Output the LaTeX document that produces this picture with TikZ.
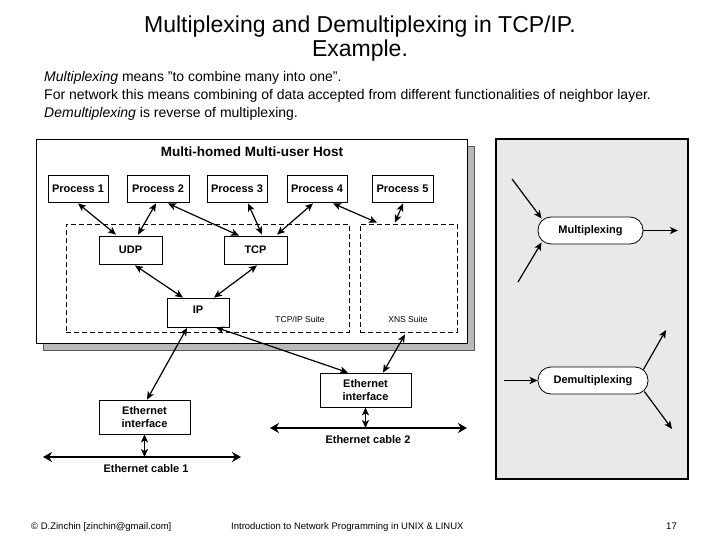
\documentclass[tikz,border=0pt]{standalone}
\usepackage{fontspec}
\setmainfont{Liberation Sans}
\usetikzlibrary{arrows.meta,calc}
\begin{document}
\begin{tikzpicture}[x=1pt,y=-1pt,
  box/.style={draw,line width=0.8pt,fill=white,inner sep=0pt,align=center,
    font=\fontsize{11}{13}\selectfont\bfseries},
  rbox/.style={box,rounded corners=13pt},
  dashbox/.style={draw,dashed,line width=0.8pt,dash pattern=on 5pt off 3pt,inner sep=0pt},
  lbl/.style={inner sep=0pt,font=\fontsize{11}{13}\selectfont\bfseries},
  small/.style={inner sep=0pt,font=\fontsize{8.5}{10}\selectfont},
  dbl/.style={{Stealth[length=8pt,width=7pt,inset=2pt]}-{Stealth[length=8pt,width=7pt,inset=2pt]},line width=1.2pt},
  sgl/.style={-{Stealth[length=8pt,width=7pt,inset=2pt]},line width=1.2pt},
  cable/.style={{Stealth[length=9pt,width=10pt]}-{Stealth[length=9pt,width=10pt]},line width=2.6pt}]
\useasboundingbox (0,0) rectangle (720,540);

% title
\node[inner sep=0pt,anchor=base,font=\fontsize{23}{26}\selectfont] (title1) at (360,33) {Multiplexing and Demultiplexing in TCP/IP.};
\node[inner sep=0pt,anchor=base,font=\fontsize{23}{26}\selectfont] (title2) at (360,57) {Example.};

% intro text
\node[inner sep=0pt,anchor=base west,font=\fontsize{14}{16}\selectfont] (t1) at (44,82) {\textit{Multiplexing} means "to combine many into one".};
\node[inner sep=0pt,anchor=base west,font=\fontsize{14}{16}\selectfont] (t2) at (44,100) {For network this means combining of data accepted from different functionalities of neighbor layer.};
\node[inner sep=0pt,anchor=base west,font=\fontsize{14}{16}\selectfont] (t3) at (44,118) {\textit{Demultiplexing} is reverse of multiplexing.};

% host box with shadow
\fill[gray!55,draw=gray!70!black,line width=0.6pt] (43,146) rectangle (474,350);
\node[draw,line width=0.8pt,fill=white,minimum width=431pt,minimum height=204pt,inner sep=0pt] (host) at (251.5,241) {};
\node[lbl,font=\fontsize{13.5}{15}\selectfont\bfseries] (hosttitle) at (252,152) {Multi-homed Multi-user Host};

% dashed suites
\node[dashbox,minimum width=283pt,minimum height=108pt] (tcpip) at (207.5,278) {};
\node[dashbox,minimum width=97pt,minimum height=108pt] (xns) at (408.5,278) {};
\node[small] (tcpiplbl) at (300,319) {TCP/IP Suite};
\node[small] (xnslbl) at (408,319) {XNS Suite};

% processes
\node[box,minimum width=60pt,minimum height=27pt] (p1) at (78,188.5) {Process 1};
\node[box,minimum width=62pt,minimum height=27pt] (p2) at (158,188.5) {Process 2};
\node[box,minimum width=60pt,minimum height=27pt] (p3) at (237,188.5) {Process 3};
\node[box,minimum width=60pt,minimum height=27pt] (p4) at (317,188.5) {Process 4};
\node[box,minimum width=61pt,minimum height=27pt] (p5) at (402.5,188.5) {Process 5};

% protocols
\node[box,minimum width=63pt,minimum height=28pt] (udp) at (130.5,250) {UDP};
\node[box,minimum width=63pt,minimum height=28pt] (tcp) at (255.5,250) {TCP};
\node[box,minimum width=62pt,minimum height=29pt,text depth=6pt] (ip) at (198,312.5) {IP};

% interfaces
\node[box,minimum width=91pt,minimum height=34pt] (eth1) at (144.5,417) {Ethernet\\interface};
\node[box,minimum width=91pt,minimum height=34pt] (eth2) at (365.5,390) {Ethernet\\interface};

% cables
\coordinate (c1a) at (43,457);
\coordinate (c1b) at (241,457);
\coordinate (c2a) at (270,428);
\coordinate (c2b) at (467,428);
\draw[cable] (c1a) -- (c1b);
\draw[cable] (c2a) -- (c2b);
\node[lbl] (c1lbl) at (146,469) {Ethernet cable 1};
\node[lbl] (c2lbl) at (368,440) {Ethernet cable 2};

% connectors inside host
\draw[dbl] ($(p1.south)+(0,1)$) -- ($(udp.north)+(-14.5,-1)$);
\draw[dbl] ($(p2.south)+(-2,1)$) -- ($(udp.north)+(7.5,-1)$);
\draw[dbl] ($(p2.south)+(10,1)$) -- ($(tcp.north)+(-16.5,0)$);
\draw[dbl] ($(p3.south)+(11,1)$) -- ($(tcp.north)+(6.5,-1)$);
\draw[dbl] ($(p4.south)+(-4,1)$) -- ($(tcp.north)+(21.5,-1)$);
\draw[dbl] ($(p4.south)+(16,1)$) -- ($(xns.north)+(-31.5,-1)$);
\draw[dbl] ($(p5.south)+(0.5,1)$) -- ($(xns.north)+(-13.5,-1)$);
\draw[dbl] ($(udp.south)+(4.5,1)$) -- ($(ip.north)+(-15,0)$);
\draw[dbl] ($(tcp.south)+(1.5,1)$) -- ($(ip.north)+(16,0)$);

% connectors to interfaces
\draw[dbl] ($(ip.south)+(-11,0.5)$) -- ($(eth1.north)+(2.5,0)$);
\draw[dbl] ($(ip.south)+(18,0)$) -- ($(eth2.north)+(-17.5,0)$);
\draw[dbl] ($(xns.south)+(-3.5,2)$) -- ($(eth2.north)+(17.5,0)$);
\draw[dbl] (eth1.south) -- (eth1.south |- c1a);
\draw[dbl] (eth2.south) -- (eth2.south |- c2a);

% right panel
\node[draw,line width=1.2pt,fill=gray!17,minimum width=192pt,minimum height=340pt,inner sep=0pt] (panel) at (592,309) {};
\node[rbox,minimum width=105pt,minimum height=27pt] (mux) at (590.5,230.5) {Multiplexing};
\node[rbox,minimum width=110pt,minimum height=27pt] (demux) at (593,380.5) {Demultiplexing};
\coordinate (mi1) at (512,179);
\coordinate (mi2) at (518,282);
\coordinate (mo) at (678,230.5);
\coordinate (di) at (504,380.5);
\coordinate (do1) at (666,330);
\coordinate (do2) at (672,429);
\draw[sgl] (mi1) -- ($(mux.west)+(4,-12)$);
\draw[sgl] (mi2) -- ($(mux.west)+(4,12)$);
\draw[sgl] (mux.east) -- (mo);
\draw[sgl] (di) -- (demux.west);
\draw[sgl] ($(demux.east)+(-5,-11)$) -- (do1);
\draw[sgl] ($(demux.east)+(-4,11)$) -- (do2);

% footer
\node[inner sep=0pt,anchor=base west,font=\fontsize{9.5}{11}\selectfont] (f1) at (31,529) {© D.Zinchin [zinchin@gmail.com]};
\node[inner sep=0pt,anchor=base west,font=\fontsize{9.5}{11}\selectfont] (f2) at (231,529) {Introduction to Network Programming in UNIX \& LINUX};
\node[inner sep=0pt,anchor=base east,font=\fontsize{9.5}{11}\selectfont] (f3) at (677,529) {17};
\end{tikzpicture}
\end{document}
